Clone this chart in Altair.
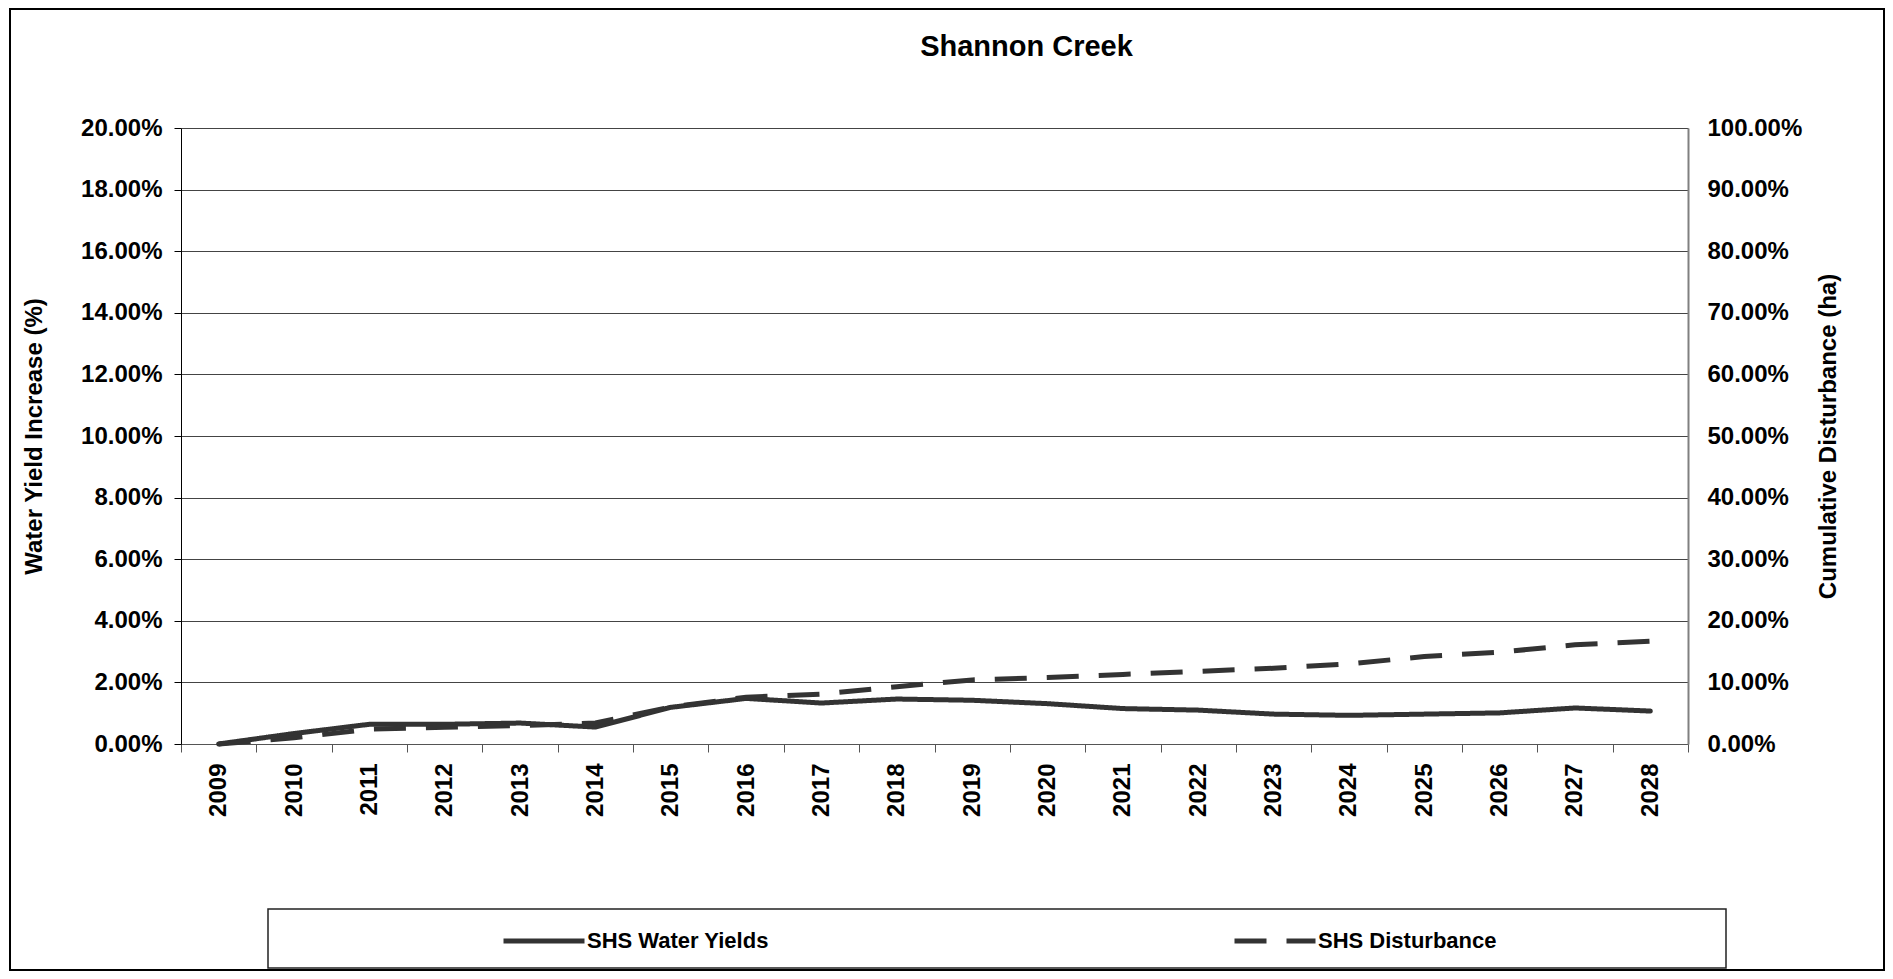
import altair as alt
import pandas as pd

years = [str(y) for y in range(2009, 2029)]
water_yields = [0.00, 0.34, 0.64, 0.64, 0.68, 0.55, 1.19, 1.48, 1.33, 1.46,
                1.42, 1.31, 1.15, 1.10, 0.97, 0.93, 0.97, 1.01, 1.17, 1.07]
disturbance = [0.0, 1.0, 2.4, 2.7, 3.0, 3.4, 6.0, 7.6, 8.1, 9.3,
               10.4, 10.8, 11.3, 11.8, 12.3, 13.0, 14.2, 14.9, 16.1, 16.7]
series_names = ["SHS Water Yields", "SHS Disturbance"]
left_ticks = [i / 100 for i in range(0, 21, 2)]
right_ticks = [i / 100 for i in range(0, 101, 10)]

FONT = "Liberation Sans"
LINE = "#333333"

df = pd.DataFrame({
    "year": years * 2,
    "series": [series_names[0]] * len(years) + [series_names[1]] * len(years),
    "value": [v / 100 for v in water_yields] + [v / 100 for v in disturbance],
})

xscale = alt.Scale(type="band", domain=years, paddingInner=0, paddingOuter=0)
xaxis = alt.Axis(
    title=None, labelAngle=270, tickBand="extent", grid=False,
    domainColor="#555555", tickColor="#555555", tickSize=8, labelPadding=11,
    labelFont=FONT, labelFontSize=24, labelFontWeight="bold", labelColor="black",
)
dash_scale = alt.Scale(domain=series_names, range=[[1, 0], [32, 20]])
legend = alt.Legend(
    orient="none", legendX=320, legendY=770, direction="horizontal", title=None,
    symbolType="stroke", symbolSize=6561, symbolStrokeWidth=5,
    symbolStrokeColor=LINE, labelFont=FONT, labelFontSize=22,
    labelFontWeight="bold", labelColor="black", columnPadding=455,
    labelOffset=0, padding=0, labelLimit=0,
)

base = alt.Chart(df)

yield_line = base.transform_filter(
    alt.datum.series == series_names[0]
).mark_line(color=LINE, strokeWidth=5, strokeCap="round", strokeJoin="round").encode(
    x=alt.X("year:O", bandPosition=0.5, scale=xscale, axis=xaxis),
    y=alt.Y("value:Q", scale=alt.Scale(domain=[0, 0.2]),
            axis=alt.Axis(
                format=".2%", values=left_ticks, grid=True, gridColor="#444444",
                gridWidth=1, domainColor="black", tickColor="black", tickSize=7,
                labelPadding=12, labelFont=FONT, labelFontSize=24,
                labelFontWeight="bold", labelColor="black",
                title="Water Yield Increase (%)", titleX=-147, titleY=308,
                titleAngle=270, titleAlign="center", titleBaseline="middle",
                titleFont=FONT, titleFontSize=24, titleFontWeight="bold",
                titleColor="black",
            )),
    strokeDash=alt.StrokeDash("series:N", scale=dash_scale, legend=legend),
)

dist_line = base.transform_filter(
    alt.datum.series == series_names[1]
).mark_line(color=LINE, strokeWidth=5, strokeCap="butt").encode(
    x=alt.X("year:O", bandPosition=0.5, scale=xscale, axis=xaxis),
    y=alt.Y("value:Q", scale=alt.Scale(domain=[0, 1]),
            axis=alt.Axis(
                orient="right", format=".2%", values=right_ticks, grid=False,
                ticks=False, domainColor="#808080", domainWidth=2,
                labelPadding=19, labelFont=FONT, labelFontSize=24,
                labelFontWeight="bold", labelColor="black",
                title="Cumulative Disturbance (ha)", titleX=140, titleY=308,
                titleAngle=270, titleAlign="center", titleBaseline="middle",
                titleFont=FONT, titleFontSize=24, titleFontWeight="bold",
                titleColor="black",
            )),
    strokeDash=alt.StrokeDash("series:N", scale=dash_scale, legend=legend),
)

deco = alt.Data(values=[{"k": 1}])
legend_box = alt.Chart(deco).mark_rect(
    fillOpacity=0, stroke="#222222", strokeWidth=1.5
).encode(x=alt.value(87), x2=alt.value(1545), y=alt.value(781), y2=alt.value(840))

outer_box = alt.Chart(deco).mark_rect(
    fillOpacity=0, stroke="black", strokeWidth=2
).encode(x=alt.value(-171), x2=alt.value(1703), y=alt.value(-119), y2=alt.value(842))

chart = alt.layer(yield_line, dist_line, legend_box, outer_box).resolve_scale(
    y="independent"
).properties(
    width=1507, height=616,
    title=alt.TitleParams(
        "Shannon Creek", font=FONT, fontSize=29, fontWeight="bold",
        color="black", anchor="middle", frame="group", dx=92, offset=8, dy=62,
    ),
    autosize=alt.AutoSizeParams(type="none"),
    padding={"left": 173, "top": 120, "right": 197, "bottom": 227},
).configure_view(stroke=None).configure(background="white")

chart.save("out.html", embed_options={"renderer": "svg", "actions": False})
